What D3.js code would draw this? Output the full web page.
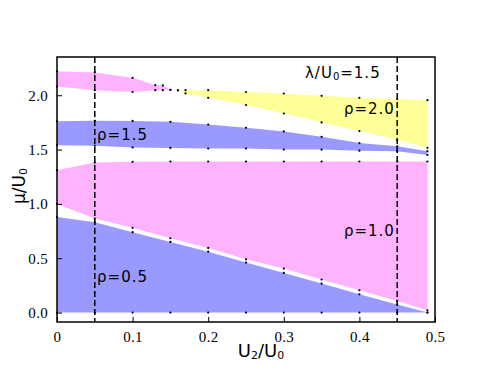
<!DOCTYPE html>
<html>
<head>
<meta charset="utf-8">
<script src="https://cdn.jsdelivr.net/npm/d3@7"></script>
<style>
  body { margin: 0; background: #fff; }
  svg { display: block; }
</style>
</head>
<body>
<svg id="chart" width="491" height="379"></svg>
<script>
// sample points along U2/U0
var xs = [0, 0.05, 0.1, 0.15, 0.2, 0.25, 0.3, 0.35, 0.4, 0.45, 0.49];

// rho = 0.5 band
var rho05Lower = [0, 0, 0, 0, 0, 0, 0, 0, 0, 0, 0];
var rho05Upper = [0.88, 0.83, 0.74, 0.65, 0.56, 0.46, 0.365, 0.267, 0.168, 0.074, 0.0];

// rho = 1.0 band
var rho10Lower = [1.0, 0.865, 0.78, 0.684, 0.595, 0.49, 0.405, 0.304, 0.205, 0.107, 0.02];
var rho10Upper = [1.31, 1.38, 1.387, 1.39, 1.39, 1.39, 1.39, 1.39, 1.39, 1.39, 1.39];

// rho = 1.5 band
var rho15Lower = [1.54, 1.535, 1.52, 1.515, 1.51, 1.51, 1.50, 1.50, 1.49, 1.485, 1.45];
var rho15Upper = [1.76, 1.765, 1.764, 1.755, 1.73, 1.70, 1.667, 1.617, 1.56, 1.53, 1.485];

// upper pink band (closes near 0.15)
var xsTop = [0, 0.05, 0.1, 0.13, 0.14, 0.15];
var topLower = [2.08, 2.047, 2.03, 2.047, 2.047, 2.05];
var topUpper = [2.22, 2.21, 2.16, 2.093, 2.09, 2.05];

// rho = 2.0 band
var xs20 = [0.16, 0.17, 0.2, 0.25, 0.3, 0.35, 0.4, 0.45, 0.49];
var rho20Lower = [2.045, 2.017, 1.976, 1.91, 1.832, 1.75, 1.67, 1.587, 1.516];
var rho20Upper = [2.045, 2.047, 2.047, 2.03, 2.016, 1.995, 1.976, 1.965, 1.955];

var xTicks = [0, 0.1, 0.2, 0.3, 0.4, 0.5];
var yTicks = [0, 0.5, 1.0, 1.5, 2.0];
var dashedX = [0.05, 0.45];

var margin = {top: 57, right: 56, bottom: 57, left: 57};
var width = 491 - margin.left - margin.right;
var height = 379 - margin.top - margin.bottom;

var pink = "#ffb3ff", blue = "#9999ff", yellow = "#ffff99";

var x = d3.scaleLinear().domain([0, 0.5]).range([0, width]);
var y = d3.scaleLinear().domain([-0.087, 2.352]).range([height, 0]);

var svg = d3.select("#chart");
var chart = svg.append("g").attr("transform", "translate(" + margin.left + "," + margin.top + ")");

var area = d3.area()
  .x(function(d) { return x(d[0]); })
  .y0(function(d) { return y(d[1]); })
  .y1(function(d) { return y(d[2]); });

function band(xv, lo, hi, color) {
  var pts = xv.map(function(v, i) { return [v, lo[i], hi[i]]; });
  chart.append("path").datum(pts).attr("d", area).attr("fill", color);
  var dots = [];
  pts.forEach(function(p) { dots.push([p[0], p[1]]); dots.push([p[0], p[2]]); });
  return dots;
}

var allDots = [];
allDots = allDots.concat(band(xs, rho05Lower, rho05Upper, blue));
allDots = allDots.concat(band(xs, rho10Lower, rho10Upper, pink));
allDots = allDots.concat(band(xs, rho15Lower, rho15Upper, blue));
allDots = allDots.concat(band(xsTop, topLower, topUpper, pink));
allDots = allDots.concat(band(xs20, rho20Lower, rho20Upper, yellow));

chart.selectAll(".dot").data(allDots).enter().append("circle")
  .attr("cx", function(d) { return x(d[0]); })
  .attr("cy", function(d) { return y(d[1]); })
  .attr("r", 1.1)
  .attr("fill", "#000");

// dashed verticals
chart.selectAll(".vline").data(dashedX).enter().append("line")
  .attr("x1", function(d) { return x(d); })
  .attr("x2", function(d) { return x(d); })
  .attr("y1", 0).attr("y2", height)
  .attr("stroke", "#000").attr("stroke-width", 1.5)
  .attr("stroke-dasharray", "6,3");

// axes with inward ticks
var xAxis = chart.append("g")
  .attr("transform", "translate(0," + height + ")")
  .call(d3.axisBottom(x).tickValues(xTicks).tickSizeInner(-5).tickSizeOuter(0).tickPadding(9)
    .tickFormat(function(d) { return d === 0 ? "0" : d3.format(".1f")(d); }));
var yAxis = chart.append("g")
  .call(d3.axisLeft(y).tickValues(yTicks).tickSizeInner(-5).tickSizeOuter(0).tickPadding(9)
    .tickFormat(d3.format(".1f")));
[xAxis, yAxis].forEach(function(a) {
  a.select(".domain").remove();
  a.selectAll("line").attr("stroke", "#000").attr("stroke-width", 1);
  a.selectAll("text").attr("font-family", "Liberation Serif").attr("font-size", 15)
    .attr("letter-spacing", 0.3).attr("fill", "#000");
});

// frame
chart.append("rect").attr("width", width).attr("height", height)
  .attr("fill", "none").attr("stroke", "#000").attr("stroke-width", 1.5);

// labels inside
function label(tx, ty, parts, anchor) {
  var t = chart.append("text").attr("x", tx).attr("y", ty)
    .attr("font-family", "DejaVu Sans").attr("font-size", 15).attr("fill", "#000")
    .attr("letter-spacing", 1)
    .attr("text-anchor", anchor || "start");
  parts.forEach(function(p) {
    var s = t.append("tspan").text(p.t);
    if (p.sub) s.attr("font-size", 10).attr("dy", 2);
    else if (p.back) s.attr("dy", -2);
  });
}
label(x(0.053), y(1.585), [{t: "ρ=1.5"}]);
label(x(0.053), y(0.28), [{t: "ρ=0.5"}]);
label(x(0.447), y(0.7), [{t: "ρ=1.0"}], "end");
label(x(0.447), y(1.83), [{t: "ρ=2.0"}], "end");
label(x(0.328), y(2.155), [{t: "λ/U"}, {t: "0", sub: true}, {t: "=1.5", back: true}]);

// axis titles
var xt = svg.append("text")
  .attr("x", 261).attr("y", 357)
  .attr("text-anchor", "middle")
  .attr("font-family", "DejaVu Sans").attr("font-size", 18).attr("fill", "#000");
xt.append("tspan").text("U");
xt.append("tspan").text("2").attr("font-size", 11).attr("dy", 2);
xt.append("tspan").text("/U").attr("dy", -2);
xt.append("tspan").text("0").attr("font-size", 11).attr("dy", 2);

var yt = svg.append("text")
  .attr("transform", "translate(25,186) rotate(-90)")
  .attr("text-anchor", "middle")
  .attr("font-family", "DejaVu Sans").attr("font-size", 17).attr("fill", "#000");
yt.append("tspan").text("μ/U");
yt.append("tspan").text("0").attr("font-size", 11).attr("dy", 2);
</script>
</body>
</html>
